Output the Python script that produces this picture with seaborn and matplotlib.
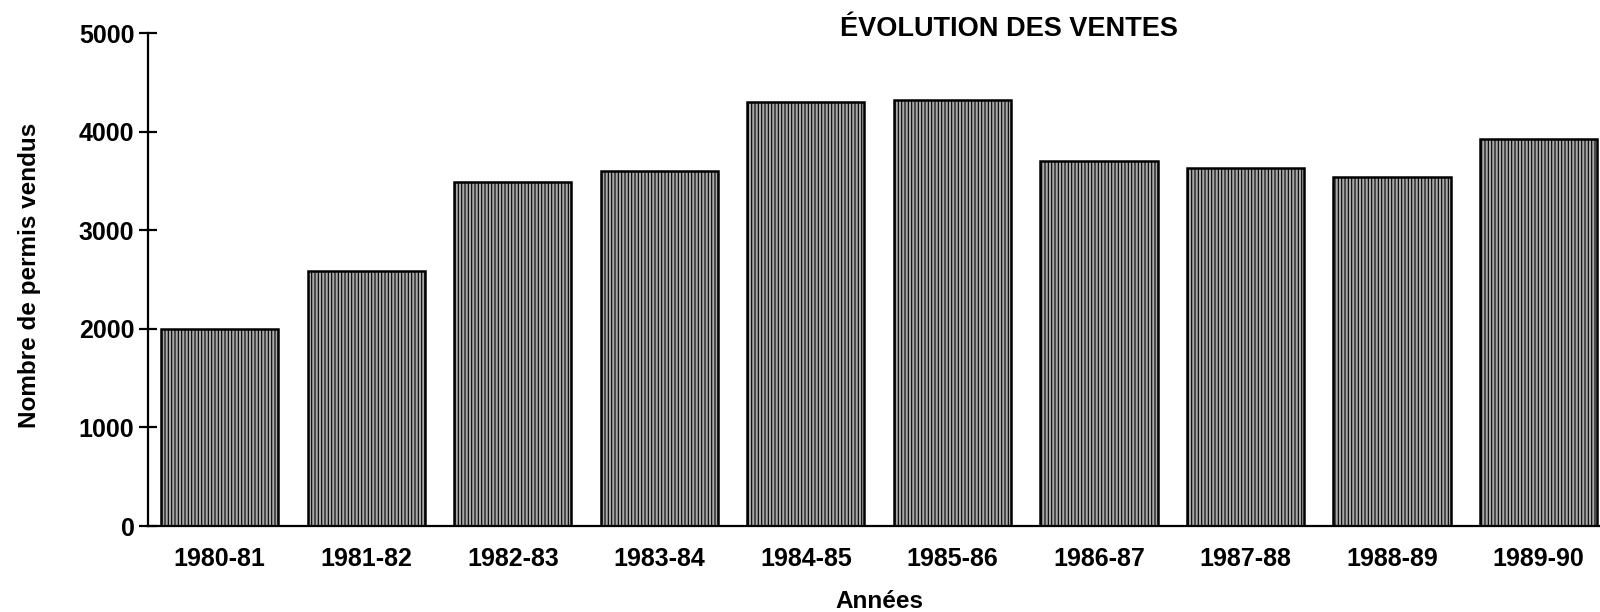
import matplotlib
matplotlib.use('Agg')
import matplotlib.pyplot as plt
import seaborn as sns
import pandas as pd

# ==========================================================
# DATA
# ==========================================================
annees = ['1980-81', '1981-82', '1982-83', '1983-84', '1984-85',
          '1985-86', '1986-87', '1987-88', '1988-89', '1989-90']
ventes = [2000, 2590, 3490, 3600, 4300, 4320, 3700, 3630, 3540, 3930]
yticks = [0, 1000, 2000, 3000, 4000, 5000]

titre = 'ÉVOLUTION DES VENTES'
label_x = 'Années'
label_y = 'Nombre de permis vendus'

# ==========================================================
# STYLE
# ==========================================================
sns.set_style('ticks')
plt.rcParams['font.family'] = ['Liberation Sans', 'DejaVu Sans']
plt.rcParams['font.weight'] = 'bold'
plt.rcParams['text.color'] = 'black'
plt.rcParams['hatch.linewidth'] = 0.8

df = pd.DataFrame({'annee': annees, 'ventes': ventes})

fig = plt.figure(figsize=(16, 6.12), dpi=100)
ax = fig.add_axes([0.0925, 0.1405, 0.9075, 0.8055])

sns.barplot(data=df, x='annee', y='ventes', color='#a9a9a9', saturation=1,
            width=0.8, edgecolor='black', linewidth=1.8, ax=ax)
for p in ax.patches:
    p.set_hatch('|||||')

ax.set_xlim(-0.49, 9.42)
ax.set_ylim(0, 5000)
ax.set_yticks(yticks)
ax.set_xlabel('')
ax.set_ylabel('')

sns.despine(ax=ax, top=True, right=True)
for side in ['left', 'bottom']:
    ax.spines[side].set_linewidth(1.6)
    ax.spines[side].set_color('black')

ax.tick_params(axis='y', direction='inout', length=13.5, width=1.6,
               labelsize=18, pad=3, colors='black')
ax.tick_params(axis='x', length=0, labelsize=18, pad=15, colors='black')

# titles / labels placed like in the scan
fig.text(1009 / 1600, 1 - 29 / 612, titre, ha='center', va='center',
         fontsize=19.5, fontweight='bold')
fig.text(30 / 1600, 1 - 275 / 612, label_y, ha='center', va='center',
         rotation=90, fontsize=17.5)
fig.text(879 / 1600, 1 - 601 / 612, label_x, ha='center', va='center',
         fontsize=17.5)

fig.savefig('out.png', dpi=100)
